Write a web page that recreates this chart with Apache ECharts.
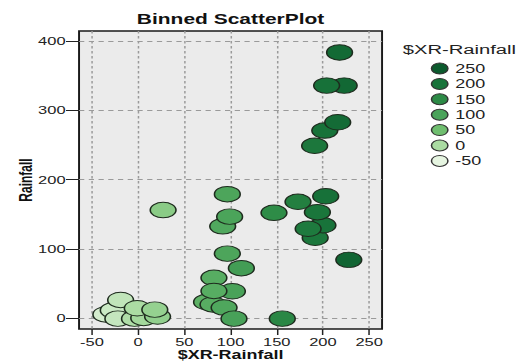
<!DOCTYPE html>
<html>
<head>
<meta charset="utf-8">
<script src="https://cdn.jsdelivr.net/npm/echarts@6/dist/echarts.min.js"></script>
<style>
  html, body { margin: 0; padding: 0; background: #fff; overflow: hidden; }
  /* the reference is stretched sideways, so draw narrow and widen */
  #main { width: 350px; height: 363px; transform: scaleX(1.4971); transform-origin: 0 0; }
</style>
</head>
<body>
<div id="main"></div>
<script>
// $XR-Rainfall (x) and Rainfall (y)
var xRain = [-35, -27, -22, -4, 6, 21, -19, -1, 18,
  27, 74, 81, 93, 103.7, 156, 82, 102, 82, 111.7, 96.5,
  228, 191.6, 200, 184, 91.5, 99, 147, 194, 173, 203, 96.5,
  191, 202, 216, 223, 204, 218]
var yRain = [5, 11, -1, -1, 0, 2, 26, 14, 12,
  156, 23, 19.5, 15, -1, -1, 58, 38.6, 39, 72, 93,
  84, 116, 134, 129, 132.5, 146.5, 152, 153, 168, 176, 179,
  249, 271, 283, 336, 336, 384]
var xTicks = [-50, 0, 50, 100, 150, 200, 250]
var yTicks = [0, 100, 200, 300, 400]
var binLabels = ['250', '200', '150', '100', '50', '0', '-50']
var binColors = ['#0b5a2d', '#18733a', '#2c8a46', '#4aa35a', '#6fbe6f', '#aadba2', '#e6f5e1']

var ellipse = 'path://M-1,0A1,1,0,1,0,1,0A1,1,0,1,0,-1,0Z'

let myChart = echarts.init(document.getElementById('main'), null, { renderer: 'svg' })

let points = []
for (let i = 0; i < xRain.length; i++) {
  points.push([xRain[i], yRain[i]])
}

let series = [
  {
    name: 'Rainfall',
    type: 'scatter',
    symbol: ellipse,
    symbolSize: [17.2, 15.5],
    itemStyle: {
      borderColor: '#1e2b1e',
      borderWidth: 1,
      opacity: 1
    },
    emphasis: { disabled: true },
    data: points
  }
]
// empty series, only for the legend swatches
for (let i = 0; i < binLabels.length; i++) {
  series.push({
    name: binLabels[i],
    type: 'scatter',
    itemStyle: { color: binColors[i], opacity: 1 },
    data: []
  })
}

let axisFont = { color: '#222', fontFamily: 'Liberation Sans', fontSize: 11 }

let option = {
  animation: false,
  title: [
    {
      text: 'Binned ScatterPlot',
      left: 154,
      textAlign: 'center',
      top: 12.5,
      padding: 0,
      textStyle: { fontFamily: 'Liberation Sans', fontWeight: 'bold', fontSize: 14, color: '#111' }
    },
    {
      text: '$XR-Rainfall',
      left: 269,
      top: 42,
      padding: 0,
      textStyle: { fontFamily: 'Liberation Sans', fontWeight: 'normal', fontSize: 13.5, color: '#222' }
    }
  ],
  grid: {
    left: 52.8,
    right: 94.8,
    top: 31,
    bottom: 34,
    outerBoundsMode: 'none',
    show: true,
    backgroundColor: '#ebebeb',
    borderColor: '#1a1a1a',
    borderWidth: 1.3
  },
  legend: {
    data: binLabels,
    orient: 'vertical',
    left: 287.7,
    top: 62.5,
    padding: 0,
    itemWidth: 12.7,
    itemHeight: 11,
    itemGap: 3.4,
    icon: ellipse,
    selectedMode: false,
    itemStyle: { borderColor: '#333', borderWidth: 1 },
    textStyle: { fontFamily: 'Liberation Sans', fontSize: 12, color: '#222', padding: [0, 0, 0, -1] }
  },
  visualMap: {
    type: 'continuous',
    show: false,
    seriesIndex: 0,
    dimension: 0,
    min: -50,
    max: 250,
    inRange: { color: binColors.slice().reverse() }
  },
  xAxis: {
    type: 'value',
    min: -64,
    max: 264,
    name: '$XR-Rainfall',
    nameLocation: 'middle',
    nameGap: 20,
    nameMoveOverlap: false,
    nameTextStyle: { fontFamily: 'Liberation Sans', fontWeight: 'bold', fontSize: 12, color: '#111' },
    axisLine: { show: false, onZero: false },
    axisTick: { show: true, length: 6, customValues: xTicks, lineStyle: { color: '#222' } },
    axisLabel: Object.assign({ margin: 8, customValues: xTicks }, axisFont),
    splitLine: {
      show: true,
      lineStyle: { color: '#9a9a9a', type: [2.5, 2.5], width: 1 }
    }
  },
  yAxis: {
    type: 'value',
    min: -16,
    max: 415,
    name: 'Rainfall',
    nameLocation: 'middle',
    nameGap: 30,
    nameMoveOverlap: false,
    nameTextStyle: { fontFamily: 'Liberation Sans', fontWeight: 'bold', fontSize: 12, color: '#111' },
    axisLine: { show: false, onZero: false },
    axisTick: { show: true, length: 8.7, customValues: yTicks, lineStyle: { color: '#222' } },
    axisLabel: Object.assign({ margin: 9, customValues: yTicks }, axisFont),
    splitLine: {
      show: true,
      lineStyle: { color: '#9a9a9a', type: [3.5, 3], width: 1 }
    }
  },
  series: series
}
myChart.setOption(option)
</script>
</body>
</html>
